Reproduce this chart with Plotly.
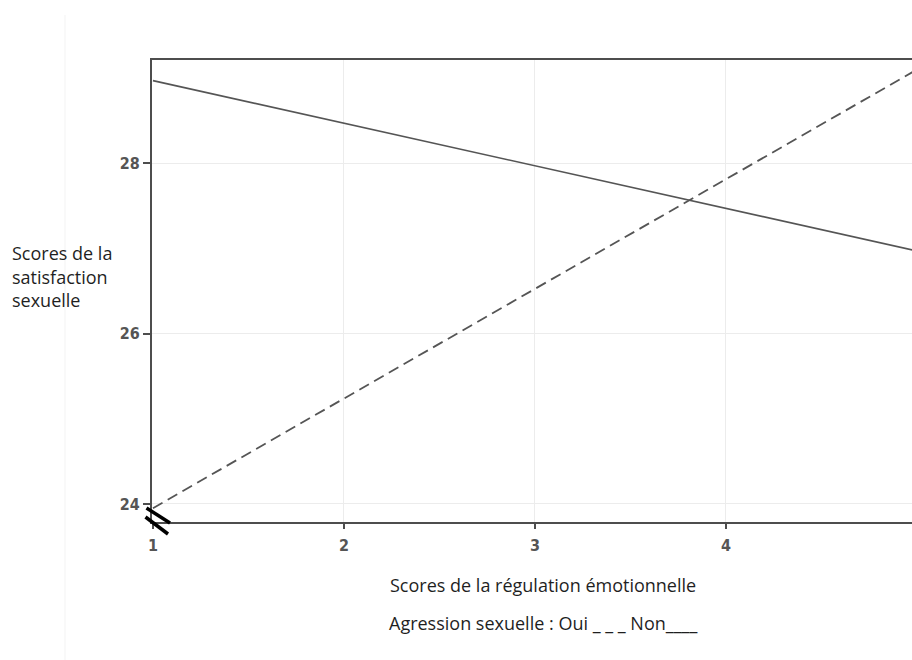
import plotly.graph_objects as go

# Data
x_vals = [1, 5]
non_vals = [28.97, 26.97]   # Agression sexuelle : Non (solid)
oui_vals = [23.95, 29.10]   # Agression sexuelle : Oui (dashed)
x_ticks = [1, 2, 3, 4, 5]
y_ticks = [24, 26, 28]

line_col = "#555555"
axis_col = "#4d4d4d"
text_font = "Open Sans, sans-serif"
tick_font = dict(family="Liberation Sans Narrow, DejaVu Sans Condensed, sans-serif",
                 size=16, color="#555555", weight="bold")

L, T, B = 152, 60, 138
W, H = 912, 660
PW, PH = W - L, H - T - B

fig = go.Figure()
fig.add_trace(go.Scatter(x=x_vals, y=non_vals, mode="lines",
                         line=dict(color=line_col, width=1.6), showlegend=False))
fig.add_trace(go.Scatter(x=x_vals, y=oui_vals, mode="lines",
                         line=dict(color=line_col, width=1.8, dash="11px,6px"),
                         showlegend=False))

fig.update_layout(
    width=W, height=H,
    margin=dict(l=L, r=0, t=T, b=B),
    paper_bgcolor="white", plot_bgcolor="white",
    xaxis=dict(range=[0.995, 4.974], tickvals=x_ticks, ticks="outside", ticklen=5,
               tickcolor=axis_col, tickwidth=1.5, ticklabelstandoff=3,
               showline=True, linecolor=axis_col, linewidth=2, mirror=True,
               showgrid=True, gridcolor="#ececec", gridwidth=1, zeroline=False,
               tickfont=tick_font),
    yaxis=dict(range=[23.788, 29.212], tickvals=y_ticks, ticks="outside", ticklen=7,
               tickcolor=axis_col, tickwidth=1.5,
               showline=True, linecolor=axis_col, linewidth=2, mirror=False,
               showgrid=True, gridcolor="#ececec", gridwidth=1, zeroline=False,
               tickfont=tick_font),
    font=dict(family=text_font),
)

def px(xs):
    return (xs - L) / PW
def py(ys):
    return 1 - (ys - T) / PH

lab_font = dict(family=text_font, size=18, color="#1f1f1f")
for i, t in enumerate(["Scores de la", "satisfaction", "sexuelle"]):
    fig.add_annotation(xref="paper", yref="paper", x=px(10), y=py(253 + 23.5 * i),
                       text=t, showarrow=False, xanchor="left", yanchor="middle",
                       font=lab_font)

fig.add_annotation(xref="paper", yref="paper", x=px(543), y=py(585),
                   text="Scores de la régulation émotionnelle", showarrow=False,
                   xanchor="center", yanchor="middle", font=lab_font)
fig.add_annotation(xref="paper", yref="paper", x=px(543), y=py(623),
                   text="Agression sexuelle : Oui _ _ _ Non____", showarrow=False,
                   xanchor="center", yanchor="middle", font=lab_font)

# Axis break mark
fig.add_shape(type="line", xref="paper", yref="paper",
              x0=px(146.5), y0=py(508), x1=px(170), y1=py(523),
              line=dict(color="black", width=3.5))
fig.add_shape(type="line", xref="paper", yref="paper",
              x0=px(145.5), y0=py(517), x1=px(168), y1=py(534),
              line=dict(color="black", width=3.5))
# faint page edge
fig.add_shape(type="line", xref="paper", yref="paper",
              x0=px(65), y0=py(15), x1=px(65), y1=py(660),
              line=dict(color="#f3f3f3", width=1))

fig.write_html("out.html", config={"displayModeBar": False},
               post_script="document.body.style.margin='0';document.body.style.overflow='hidden';")
